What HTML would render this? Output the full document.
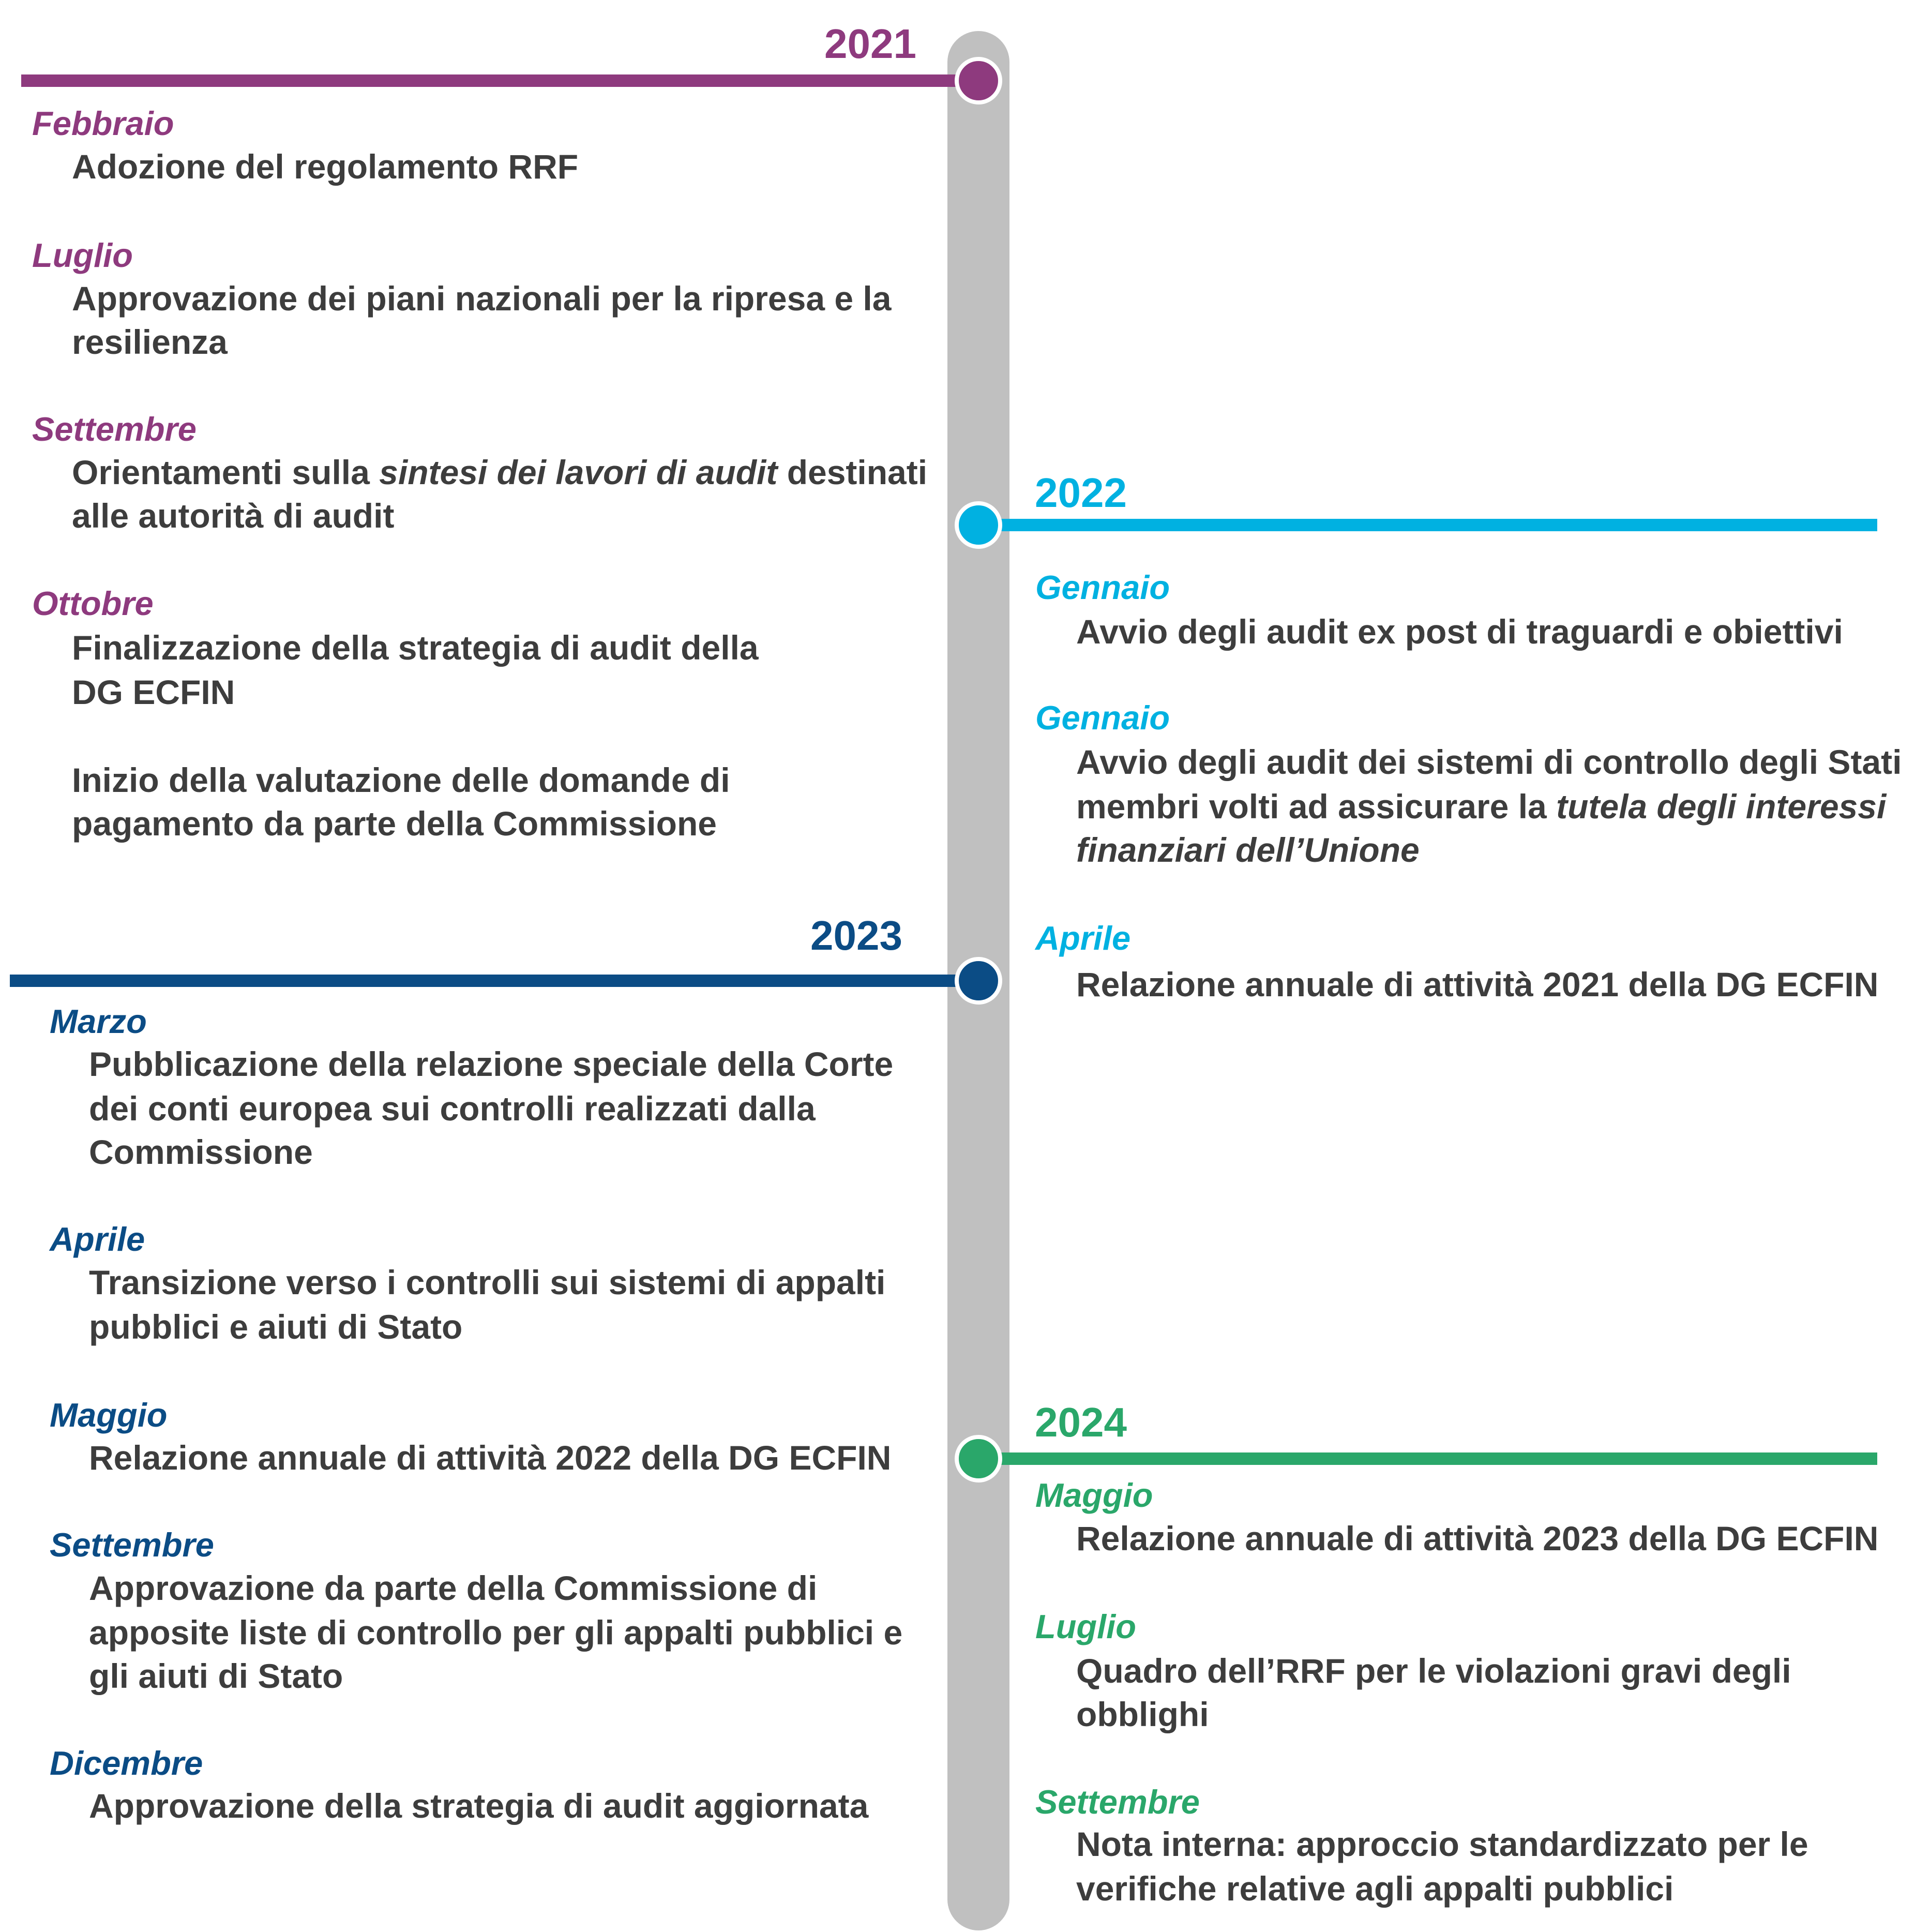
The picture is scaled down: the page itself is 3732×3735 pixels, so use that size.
<!DOCTYPE html>
<html><head><meta charset="utf-8"><style>
html,body{margin:0;padding:0;background:#fff;}
svg{display:block;}
text{font-family:"Liberation Sans",sans-serif;font-weight:bold;}
.b{font-size:66px;fill:#3d3d3d;}
.m{font-size:65px;font-style:italic;}
.y{font-size:80px;}
.i{font-style:italic;}
</style></head><body>
<svg width="3732" height="3735" viewBox="0 0 3732 3735" xmlns="http://www.w3.org/2000/svg">
<rect x="1832" y="60" width="120" height="3672" rx="60" fill="#c0c0c0"/>

<!-- 2021 -->
<rect x="41" y="144" width="1852" height="24" fill="#8e3a7e"/>
<circle cx="1892" cy="156" r="42" fill="#8e3a7e" stroke="#fff" stroke-width="8"/>
<text x="1594" y="112" class="y" fill="#8e3a7e">2021</text>
<g fill="#8e3a7e">
<text x="62" y="261" class="m">Febbraio</text>
<text x="62" y="516" class="m">Luglio</text>
<text x="62" y="852" class="m">Settembre</text>
<text x="62" y="1189" class="m">Ottobre</text>
</g>
<text x="139" y="345" class="b">Adozione del regolamento RRF</text>
<text x="139" y="600" class="b">Approvazione dei piani nazionali per la ripresa e la</text>
<text x="139" y="684" class="b">resilienza</text>
<text x="139" y="936" class="b">Orientamenti sulla <tspan class="i">sintesi dei lavori di audit</tspan> destinati</text>
<text x="139" y="1020" class="b">alle autorità di audit</text>
<text x="139" y="1275" class="b">Finalizzazione della strategia di audit della</text>
<text x="139" y="1361" class="b">DG ECFIN</text>
<text x="139" y="1531" class="b">Inizio della valutazione delle domande di</text>
<text x="139" y="1615" class="b">pagamento da parte della Commissione</text>

<!-- 2022 -->
<rect x="1893" y="1003" width="1737" height="24" fill="#00b1e1"/>
<circle cx="1892" cy="1015" r="42" fill="#00b1e1" stroke="#fff" stroke-width="8"/>
<text x="2001" y="980" class="y" fill="#00b1e1">2022</text>
<g fill="#00b1e1">
<text x="2002" y="1158" class="m">Gennaio</text>
<text x="2002" y="1410" class="m">Gennaio</text>
<text x="2002" y="1836" class="m">Aprile</text>
</g>
<text x="2081" y="1244" class="b">Avvio degli audit ex post di traguardi e obiettivi</text>
<text x="2081" y="1496" class="b">Avvio degli audit dei sistemi di controllo degli Stati</text>
<text x="2081" y="1582" class="b">membri volti ad assicurare la <tspan class="i">tutela degli interessi</tspan></text>
<text x="2081" y="1666" class="b i">finanziari dell’Unione</text>
<text x="2081" y="1926" class="b">Relazione annuale di attività 2021 della DG ECFIN</text>

<!-- 2023 -->
<rect x="19" y="1884" width="1874" height="24" fill="#0b4c85"/>
<circle cx="1892" cy="1896" r="42" fill="#0b4c85" stroke="#fff" stroke-width="8"/>
<text x="1567" y="1836" class="y" fill="#0b4c85">2023</text>
<g fill="#0b4c85">
<text x="96" y="1997" class="m">Marzo</text>
<text x="96" y="2418" class="m">Aprile</text>
<text x="96" y="2758" class="m">Maggio</text>
<text x="96" y="3009" class="m">Settembre</text>
<text x="96" y="3431" class="m">Dicembre</text>
</g>
<text x="172" y="2080" class="b">Pubblicazione della relazione speciale della Corte</text>
<text x="172" y="2166" class="b">dei conti europea sui controlli realizzati dalla</text>
<text x="172" y="2250" class="b">Commissione</text>
<text x="172" y="2502" class="b">Transizione verso i controlli sui sistemi di appalti</text>
<text x="172" y="2588" class="b">pubblici e aiuti di Stato</text>
<text x="172" y="2841" class="b">Relazione annuale di attività 2022 della DG ECFIN</text>
<text x="172" y="3093" class="b">Approvazione da parte della Commissione di</text>
<text x="172" y="3179" class="b">apposite liste di controllo per gli appalti pubblici e</text>
<text x="172" y="3263" class="b">gli aiuti di Stato</text>
<text x="172" y="3514" class="b">Approvazione della strategia di audit aggiornata</text>

<!-- 2024 -->
<rect x="1893" y="2808" width="1737" height="24" fill="#2aa76a"/>
<circle cx="1892" cy="2820" r="42" fill="#2aa76a" stroke="#fff" stroke-width="8"/>
<text x="2001" y="2777" class="y" fill="#2aa76a">2024</text>
<g fill="#2aa76a">
<text x="2002" y="2913" class="m">Maggio</text>
<text x="2002" y="3167" class="m">Luglio</text>
<text x="2002" y="3506" class="m">Settembre</text>
</g>
<text x="2081" y="2997" class="b">Relazione annuale di attività 2023 della DG ECFIN</text>
<text x="2081" y="3253" class="b">Quadro dell’RRF per le violazioni gravi degli</text>
<text x="2081" y="3337" class="b">obblighi</text>
<text x="2081" y="3588" class="b">Nota interna: approccio standardizzato per le</text>
<text x="2081" y="3674" class="b">verifiche relative agli appalti pubblici</text>
</svg>
</body></html>
